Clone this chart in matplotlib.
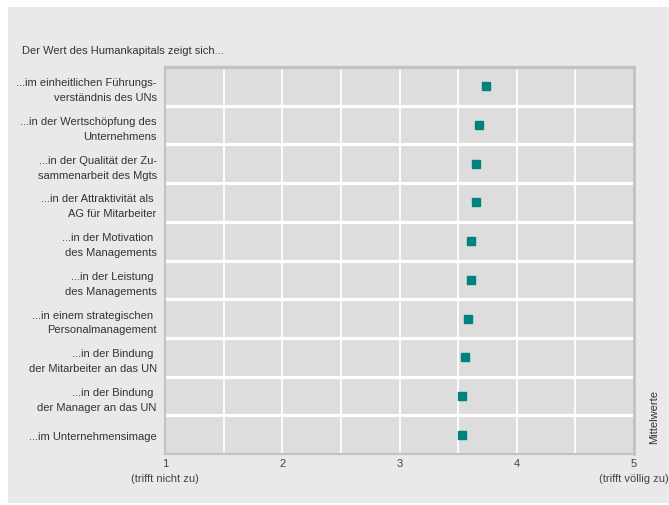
import matplotlib
matplotlib.use("Agg")
import matplotlib.pyplot as plt
from matplotlib.patches import Rectangle
import numpy as np

plt.rcParams['font.family'] = ['Liberation Sans', 'DejaVu Sans']

title = "Der Wert des Humankapitals zeigt sich..."
categories = [
    "...im einheitlichen Führungs-\nverständnis des UNs",
    "...in der Wertschöpfung des\nUnternehmens",
    "...in der Qualität der Zu-\nsammenarbeit des Mgts",
    "...in der Attraktivität als \nAG für Mitarbeiter",
    "...in der Motivation \ndes Managements",
    "...in der Leistung \ndes Managements",
    "...in einem strategischen \nPersonalmanagement",
    "...in der Bindung \nder Mitarbeiter an das UN",
    "...in der Bindung \nder Manager an das UN",
    "...im Unternehmensimage",
]
means = [3.74, 3.68, 3.65, 3.65, 3.61, 3.61, 3.58, 3.555, 3.53, 3.53]
xticks = [1, 2, 3, 4, 5]
xtick_labels = ["1\n(trifft nicht zu)", "2", "3", "4", "5\n(trifft völlig zu)"]
side_label = "Mittelwerte"

FS = 8.0
W, H = 669, 506
fig = plt.figure(figsize=(W / 100, H / 100), dpi=100, facecolor='white')
fig.patches.append(Rectangle((8 / W, 2 / H), (W - 8) / W, (H - 10) / H,
                             transform=fig.transFigure, facecolor='#e9e9e9',
                             edgecolor='none', zorder=-10))

ax = fig.add_axes([165 / W, 1 - 455 / H, 469 / W, 387 / H])
ax.set_facecolor('#dddddd')
n = len(categories)
y = np.arange(n)

ax.set_xlim(1, 5)
ax.set_ylim(n - 0.5, -0.5)

for xv in np.arange(1.5, 5.0, 0.5):
    ax.axvline(xv, color='white', lw=1.3, zorder=1)
for yv in np.arange(0.5, n - 0.5, 1):
    ax.axhline(yv, color='white', lw=2.3, zorder=1)

ax.plot(means, y, linestyle='none', marker='s', markersize=5.8,
        color='#00827f', zorder=3)

ax.set_yticks(y)
ax.set_yticklabels(categories, fontsize=FS, color='#333333', linespacing=1.6)
ax.set_xticks(xticks)
ax.set_xticklabels(xtick_labels, fontsize=FS, color='#444444', linespacing=1.55)
ax.tick_params(axis='both', length=0)
ax.tick_params(axis='y', pad=6)
ax.tick_params(axis='x', pad=3)

for side, sp in ax.spines.items():
    sp.set_color('#c2c2c2')
    sp.set_linewidth(1.5)
ax.spines['top'].set_linewidth(2.4)
ax.spines['right'].set_linewidth(2.0)

fig.text(22 / W, 1 - 51 / H, title, fontsize=FS, color='#333333',
         ha='left', va='center')
fig.text(654 / W, 1 - 417 / H, side_label, fontsize=FS, color='#333333',
         rotation=90, ha='center', va='center')

fig.savefig('out.png', dpi=100, facecolor=fig.get_facecolor())
